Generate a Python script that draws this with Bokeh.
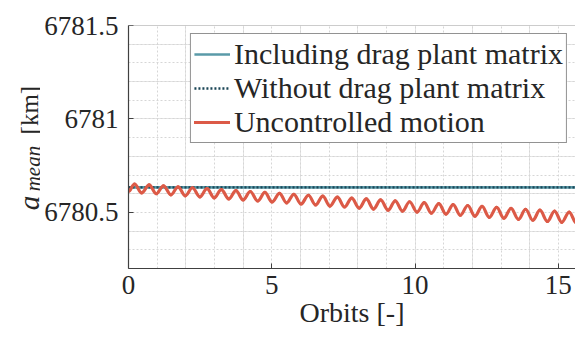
from bokeh.plotting import figure
from bokeh.models import Range1d, LinearAxis, FixedTicker, Legend, LegendItem, Grid, Span
from bokeh.layouts import row
from bokeh.core.properties import value
from bokeh.embed import file_html
from bokeh.resources import INLINE
import math

# ---- data ----
x_ticks = [0, 5, 10, 15]
x_tick_labels = ["0", "5", "10", "15"]
y_ticks = [6780.5, 6781.0, 6781.5]
y_tick_labels = ["6780.5", "6781", "6781.5"]
x_grid = [0, 1, 2, 3, 4, 5, 6, 7, 8, 9, 10, 11, 12, 13, 14, 15]
y_grid = [6780.2, 6780.3, 6780.4, 6780.5, 6780.6, 6780.7, 6780.8, 6780.9,
          6781.0, 6781.1, 6781.2, 6781.3, 6781.4, 6781.5]

orbits_ctrl = [0.0, 2.0, 4.0, 6.0, 8.0, 10.0, 12.0, 14.0, 15.6]
a_including_drag = [6780.634, 6780.634, 6780.634, 6780.634, 6780.634,
                    6780.634, 6780.634, 6780.634, 6780.634]
a_without_drag = [6780.634, 6780.634, 6780.634, 6780.634, 6780.634,
                  6780.634, 6780.634, 6780.634, 6780.634]

# uncontrolled motion: start point followed by successive peaks / troughs
orbits_unc = [0.00, 0.21, 0.46, 0.72, 0.97, 1.22, 1.48, 1.73, 1.98, 2.23, 2.49,
              2.74, 2.99, 3.24, 3.50, 3.75, 4.00, 4.25, 4.51, 4.76, 5.01, 5.27,
              5.52, 5.77, 6.02, 6.28, 6.53, 6.78, 7.03, 7.29, 7.54, 7.79, 8.05,
              8.30, 8.55, 8.80, 9.06, 9.31, 9.56, 9.81, 10.07, 10.32, 10.57,
              10.83, 11.08, 11.33, 11.58, 11.84, 12.09, 12.34, 12.59, 12.85,
              13.10, 13.35, 13.61, 13.86, 14.11, 14.36, 14.62, 14.87, 15.12,
              15.38, 15.63]
a_uncontrolled = [6780.612, 6780.652, 6780.605, 6780.647, 6780.600, 6780.642,
                  6780.594, 6780.637, 6780.589, 6780.632, 6780.583, 6780.627,
                  6780.578, 6780.622, 6780.572, 6780.617, 6780.567, 6780.612,
                  6780.561, 6780.607, 6780.556, 6780.602, 6780.551, 6780.597,
                  6780.545, 6780.592, 6780.540, 6780.587, 6780.534, 6780.582,
                  6780.529, 6780.577, 6780.523, 6780.572, 6780.518, 6780.567,
                  6780.512, 6780.562, 6780.507, 6780.557, 6780.502, 6780.552,
                  6780.496, 6780.547, 6780.491, 6780.542, 6780.485, 6780.537,
                  6780.480, 6780.532, 6780.474, 6780.527, 6780.469, 6780.522,
                  6780.463, 6780.517, 6780.458, 6780.512, 6780.452, 6780.507,
                  6780.447, 6780.502, 6780.442]

series_labels = ["Including drag plant matrix", "Without drag plant matrix",
                 "Uncontrolled motion"]
y_label_parts = ["a", "mean", "[km]"]

FONT = "Liberation Serif"
TXT = "#262626"
Y0, Y1 = 6780.2, 6781.5

p = figure(width=535, height=340, output_backend="svg", toolbar_location=None,
           x_range=Range1d(0, 15.6), y_range=Range1d(Y0, Y1),
           x_axis_location=None, y_axis_location=None,
           min_border_left=88, min_border_right=0, min_border_top=25,
           min_border_bottom=72, outline_line_color=None)

for dim, ticks in ((0, x_grid), (1, y_grid)):
    p.add_layout(Grid(dimension=dim, ticker=FixedTicker(ticks=ticks),
                      grid_line_color="#d6d6d6", grid_line_dash="2 2",
                      grid_line_width=1), "center")

# top edge of the box
p.add_layout(Span(location=Y1, dimension="width", line_color="#9a9a9a",
                  line_width=1.2))

def style_axis(ax, color):
    ax.axis_line_color = color
    ax.axis_line_width = 1.2
    ax.major_tick_line_color = color
    ax.major_tick_in = 5
    ax.major_tick_out = 0
    ax.minor_tick_line_color = None
    ax.major_label_text_font = FONT
    ax.major_label_text_font_size = "27px"
    ax.major_label_text_color = TXT

xb = LinearAxis(ticker=FixedTicker(ticks=x_ticks),
                major_label_overrides=dict(zip(x_ticks, x_tick_labels)))
style_axis(xb, "#404040")
xb.major_label_standoff = 7
xb.axis_label = "Orbits [-]"
xb.axis_label_text_font = FONT
xb.axis_label_text_font_size = "28px"
xb.axis_label_text_font_style = "normal"
xb.axis_label_text_color = TXT
xb.axis_label_standoff = 0
p.add_layout(xb, "below")

yl = LinearAxis(ticker=FixedTicker(ticks=y_ticks),
                major_label_overrides=dict(zip(y_ticks, y_tick_labels)))
style_axis(yl, "#404040")
yl.major_label_standoff = 10
p.add_layout(yl, "left")

r1 = p.line(orbits_ctrl, a_including_drag, line_color="#5a9aa8", line_width=2.6)
r2 = p.line(orbits_ctrl, a_without_drag, line_color="#1b4556", line_width=2.4,
            line_dash="2 2")

# smooth curve through successive extrema (horizontal tangent at each extremum)
k = 0.364
bx0 = orbits_unc[:-1]
bx1 = orbits_unc[1:]
by0 = a_uncontrolled[:-1]
by1 = a_uncontrolled[1:]
bcx0 = [a + k * (b - a) for a, b in zip(bx0, bx1)]
bcx1 = [b - k * (b - a) for a, b in zip(bx0, bx1)]
r3 = p.bezier(x0=bx0, y0=by0, x1=bx1, y1=by1, cx0=bcx0, cy0=by0,
              cx1=bcx1, cy1=by1, line_color="#dc5a47", line_width=3.2,
              line_cap="round")

legend = Legend(items=[LegendItem(label=series_labels[0], renderers=[r1]),
                       LegendItem(label=series_labels[1], renderers=[r2]),
                       LegendItem(label=series_labels[2], renderers=[r3])],
                location="top_right", margin=8, padding=3, spacing=0,
                glyph_width=36, glyph_height=30, label_height=31,
                label_standoff=4, label_text_font=FONT,
                label_text_font_size="30px", label_text_color=TXT,
                border_line_color="#262626", border_line_width=1,
                background_fill_color="white", background_fill_alpha=1)
p.add_layout(legend, "center")

# narrow panel on the left holding the y-axis title a_mean [km]
fl = figure(width=40, height=340, output_backend="svg", toolbar_location=None,
            x_range=Range1d(0, 40), y_range=p.y_range,
            x_axis_location=None, y_axis_location=None,
            min_border_left=0, min_border_right=0, min_border_top=25,
            min_border_bottom=72, outline_line_color=None)
fl.xgrid.visible = False
fl.ygrid.visible = False

def ys(sy):
    return Y0 + (268.3 - sy) / 187.2

fl.text(x=[28], y=[ys(210)], text=[y_label_parts[0]], angle=math.pi / 2,
        text_font=value(FONT), text_font_style="italic", text_font_size="29px",
        text_color=TXT, text_baseline="alphabetic", text_align="left")
fl.text(x=[32], y=[ys(191)], text=[y_label_parts[1]], angle=math.pi / 2,
        text_font=value(FONT), text_font_style="italic", text_font_size="21px",
        text_color=TXT, text_baseline="alphabetic", text_align="left")
fl.text(x=[29], y=[ys(134)], text=[y_label_parts[2]], angle=math.pi / 2,
        text_font=value(FONT), text_font_size="25px",
        text_color=TXT, text_baseline="alphabetic", text_align="left")

layout = row(fl, p)
open("out.html", "w").write(file_html(layout, INLINE))
